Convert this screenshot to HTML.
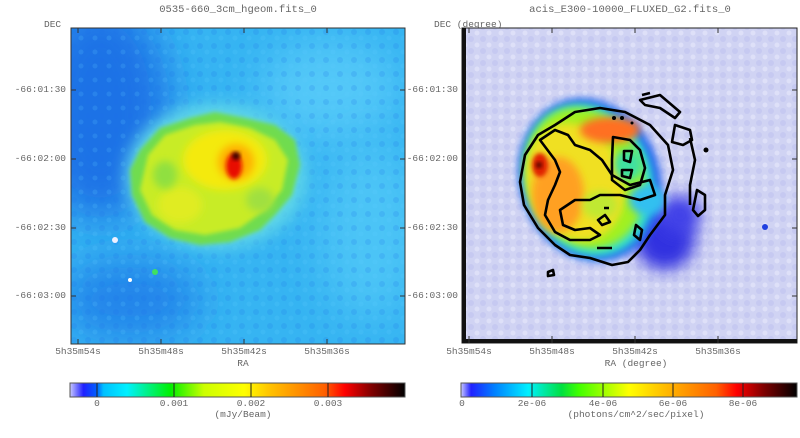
<!DOCTYPE html>
<html><head><style>
body{margin:0;background:#fff;width:800px;height:438px;overflow:hidden}
svg{display:block}
text{font-family:"Liberation Mono",monospace;font-size:9.5px;fill:#666}
</style></head><body>
<svg width="800" height="438" viewBox="0 0 800 438">
<defs>
<filter id="b8" x="-30%" y="-30%" width="160%" height="160%"><feGaussianBlur stdDeviation="8"/></filter>
<filter id="b4" x="-30%" y="-30%" width="160%" height="160%"><feGaussianBlur stdDeviation="4"/></filter>
<filter id="b2" x="-30%" y="-30%" width="160%" height="160%"><feGaussianBlur stdDeviation="2"/></filter>
<filter id="b20" x="-50%" y="-50%" width="200%" height="200%"><feGaussianBlur stdDeviation="20"/></filter>
<clipPath id="cl"><rect x="71" y="28" width="334" height="316"/></clipPath>
<clipPath id="cr"><rect x="462" y="28" width="335" height="315"/></clipPath>
<linearGradient id="cb1" x1="0" x2="1">
<stop offset="0" stop-color="#c8c8ff"/><stop offset="0.04" stop-color="#2020ff"/><stop offset="0.08" stop-color="#0060ff"/><stop offset="0.1" stop-color="#00c0ff"/><stop offset="0.17" stop-color="#00f0ff"/><stop offset="0.3" stop-color="#00f000"/><stop offset="0.4" stop-color="#ccff00"/><stop offset="0.52" stop-color="#ffff00"/><stop offset="0.6" stop-color="#ffc000"/><stop offset="0.76" stop-color="#ff6000"/><stop offset="0.82" stop-color="#ff0000"/><stop offset="0.9" stop-color="#800000"/><stop offset="1" stop-color="#000"/></linearGradient>
<linearGradient id="cb2" x1="0" x2="1">
<stop offset="0" stop-color="#c8c8ff"/><stop offset="0.03" stop-color="#2020ff"/><stop offset="0.1" stop-color="#0080ff"/><stop offset="0.2" stop-color="#00f0ff"/><stop offset="0.3" stop-color="#00e040"/><stop offset="0.35" stop-color="#40ff00"/><stop offset="0.5" stop-color="#ffff00"/><stop offset="0.6" stop-color="#ffc000"/><stop offset="0.76" stop-color="#ff6000"/><stop offset="0.82" stop-color="#ff0000"/><stop offset="0.9" stop-color="#800000"/><stop offset="1" stop-color="#000"/></linearGradient>
<pattern id="noise" width="14" height="14" patternUnits="userSpaceOnUse"><circle cx="4" cy="4" r="3" fill="#1a70e8" opacity="0.18"/><circle cx="11" cy="10" r="2.5" fill="#60d0ff" opacity="0.18"/></pattern>
<pattern id="noise2" width="12" height="12" patternUnits="userSpaceOnUse"><circle cx="3" cy="3" r="3" fill="#bcc0f0" opacity="0.5"/><circle cx="9" cy="9" r="2.5" fill="#e8eafb" opacity="0.6"/></pattern>
</defs>

<text x="238" y="12" text-anchor="middle" style="font-size:10.5px">0535-660_3cm_hgeom.fits_0</text>
<text x="630" y="12" text-anchor="middle" style="font-size:10.5px">acis_E300-10000_FLUXED_G2.fits_0</text>
<text x="44" y="27">DEC</text>
<text x="434" y="27">DEC (degree)</text>

<!-- LEFT IMAGE -->
<g clip-path="url(#cl)">
<rect x="71" y="28" width="334" height="316" fill="#36b4f2"/>
<ellipse cx="100" cy="110" rx="70" ry="110" fill="#1c72e6" filter="url(#b20)"/>
<ellipse cx="130" cy="300" rx="70" ry="40" fill="#2484ea" filter="url(#b20)"/>
<ellipse cx="330" cy="90" rx="70" ry="50" fill="#52c8f8" filter="url(#b20)"/>
<ellipse cx="370" cy="230" rx="50" ry="90" fill="#4cc4f6" filter="url(#b20)"/>
<rect x="71" y="28" width="334" height="316" fill="url(#noise)"/>
<ellipse cx="216" cy="176" rx="90" ry="72" fill="#60d8e8" filter="url(#b8)"/>
<path d="M140 150 L160 128 L190 118 L215 112 L245 118 L275 125 L295 140 L300 165 L292 195 L275 215 L260 230 L230 242 L200 245 L170 238 L145 222 L132 195 L130 170 Z" fill="#70dc50" filter="url(#b2)"/>
<path d="M148 155 L165 135 L195 125 L220 122 L250 128 L275 140 L288 160 L282 190 L265 210 L240 228 L205 235 L175 230 L152 215 L140 190 Z" fill="#c8ec28" filter="url(#b2)"/>
<ellipse cx="225" cy="160" rx="42" ry="30" fill="#f4ea10" filter="url(#b4)"/>
<ellipse cx="180" cy="205" rx="22" ry="18" fill="#e0ec20" filter="url(#b4)"/>
<ellipse cx="165" cy="175" rx="12" ry="14" fill="#90e040" filter="url(#b4)"/>
<ellipse cx="260" cy="200" rx="14" ry="12" fill="#a0e040" filter="url(#b4)"/>
<ellipse cx="236" cy="162" rx="18" ry="18" fill="#ffb000" filter="url(#b4)"/>
<ellipse cx="234" cy="166" rx="8" ry="13" fill="#e81000" filter="url(#b2)"/>
<ellipse cx="236" cy="156" rx="4" ry="4" fill="#300000" filter="url(#b2)"/>
<circle cx="155" cy="272" r="3" fill="#40e060"/>
<circle cx="115" cy="240" r="3" fill="#f0f0ff"/>
<circle cx="130" cy="280" r="2" fill="#ffffff"/>
</g>
<rect x="71" y="28" width="334" height="316" fill="none" stroke="#333" stroke-width="1"/>
<g stroke="#333" stroke-width="1">
<path d="M78 28v5M161 28v5M244 28v5M327 28v5M78 344v-5M161 344v-5M244 344v-5M327 344v-5M71 90h5M71 159h5M71 228h5M71 296h5M405 90h-5M405 159h-5M405 228h-5M405 296h-5"/>
</g>
<text x="66" y="92" text-anchor="end">-66:01:30</text>
<text x="66" y="161" text-anchor="end">-66:02:00</text>
<text x="66" y="230" text-anchor="end">-66:02:30</text>
<text x="66" y="298" text-anchor="end">-66:03:00</text>
<text x="78" y="354" text-anchor="middle">5h35m54s</text>
<text x="161" y="354" text-anchor="middle">5h35m48s</text>
<text x="244" y="354" text-anchor="middle">5h35m42s</text>
<text x="327" y="354" text-anchor="middle">5h35m36s</text>
<text x="243" y="366" text-anchor="middle">RA</text>

<!-- RIGHT IMAGE -->
<g clip-path="url(#cr)">
<rect x="462" y="28" width="335" height="315" fill="#d0d3f3"/>
<rect x="462" y="28" width="335" height="315" fill="url(#noise2)"/>
<ellipse cx="665" cy="240" rx="30" ry="30" fill="#3030e0" filter="url(#b8)"/>
<ellipse cx="680" cy="215" rx="20" ry="20" fill="#4040e8" filter="url(#b8)"/>
<ellipse cx="590" cy="180" rx="70" ry="83" transform="rotate(-20 590 180)" fill="#2060f0" filter="url(#b4)"/>
<ellipse cx="588" cy="180" rx="64" ry="78" transform="rotate(-20 588 180)" fill="#30e0d0" filter="url(#b4)"/>
<ellipse cx="585" cy="178" rx="58" ry="72" transform="rotate(-20 585 178)" fill="#a0f020" filter="url(#b4)"/>
<ellipse cx="575" cy="182" rx="48" ry="60" transform="rotate(-20 575 182)" fill="#f0e020" filter="url(#b4)"/>
<ellipse cx="558" cy="195" rx="26" ry="38" fill="#ffa020" filter="url(#b4)"/>
<ellipse cx="600" cy="205" rx="18" ry="14" fill="#c0e830" filter="url(#b4)"/>
<ellipse cx="610" cy="130" rx="30" ry="13" fill="#ff7020" filter="url(#b4)"/>
<ellipse cx="628" cy="165" rx="14" ry="16" fill="#40e0a0" filter="url(#b4)"/>
<ellipse cx="647" cy="200" rx="18" ry="15" fill="#30c0f0" filter="url(#b4)"/>
<ellipse cx="540" cy="165" rx="8" ry="12" fill="#e02000" filter="url(#b2)"/>
<circle cx="539" cy="165" r="3" fill="#400000" filter="url(#b2)"/>
<circle cx="765" cy="227" r="3" fill="#2040e0"/>
<g fill="none" stroke="#000" stroke-width="2.6" stroke-linejoin="round">
<path d="M555 125 L575 112 L600 108 L625 112 L650 125 L668 145 L673 170 L665 195 L665 215 L650 235 L640 250 L628 262 L612 265 L590 258 L570 255 L555 245 L538 228 L524 205 L520 182 L525 155 L538 135 Z"/>
<path d="M540 140 L555 130 L568 135 L575 145 L590 150 L602 160 L612 175 L630 185 L650 180 L655 195 L640 200 L620 195 L600 195 L590 200 L575 200 L560 210 L563 225 L575 230 L590 228 L600 235 L590 240 L570 240 L555 232 L545 215 L548 200 L555 185 L560 172 L555 160 Z"/>
<path d="M613 137 L630 140 L640 150 L645 168 L640 185 L625 190 L612 180 L612 160 Z"/>
<path d="M624 151 L632 151 L630 162 L624 160 Z"/>
<path d="M622 170 L632 170 L630 178 L622 176 Z"/>
<path d="M640 100 L660 95 L680 112 L675 118 L660 108 L645 105 Z"/>
<path d="M642 95 L650 93 M675 125 L690 130 L692 140 L683 145 L672 142 Z"/>
<path d="M690 138 L695 160 L690 185 L690 205 M697 190 L705 195 L705 210 L698 216 L693 210 Z"/>
<path d="M598 220 L605 215 L610 222 L602 225 Z M636 225 L642 230 L640 240 L634 235 Z M597 248 L612 248"/>
<path d="M548 272 L553 270 L554 275 L548 276 Z M604 208 L609 208"/>
</g>
<g fill="#000"><circle cx="614" cy="118" r="2"/><circle cx="622" cy="118" r="2"/><circle cx="706" cy="150" r="2.5"/><circle cx="632" cy="123" r="1.5"/></g>
</g>
<rect x="462" y="28" width="335" height="315" fill="none" stroke="#222" stroke-width="1"/>
<rect x="462" y="28" width="4" height="315" fill="#111"/>
<rect x="462" y="339" width="335" height="4" fill="#111"/>
<g stroke="#333" stroke-width="1">
<path d="M469 28v5M552 28v5M635 28v5M718 28v5M469 343v-7M552 343v-7M635 343v-7M718 343v-7M797 90h-5M797 159h-5M797 228h-5M797 296h-5"/>
</g>
<text x="458" y="92" text-anchor="end">-66:01:30</text>
<text x="458" y="161" text-anchor="end">-66:02:00</text>
<text x="458" y="230" text-anchor="end">-66:02:30</text>
<text x="458" y="298" text-anchor="end">-66:03:00</text>
<text x="469" y="354" text-anchor="middle">5h35m54s</text>
<text x="552" y="354" text-anchor="middle">5h35m48s</text>
<text x="635" y="354" text-anchor="middle">5h35m42s</text>
<text x="718" y="354" text-anchor="middle">5h35m36s</text>
<text x="636" y="366" text-anchor="middle">RA (degree)</text>

<!-- COLORBARS -->
<rect x="70" y="383" width="335" height="14" fill="url(#cb1)" stroke="#555" stroke-width="1"/>
<g stroke="#222" stroke-width="1"><path d="M97 383v14M174 383v14M251 383v14M328 383v14"/></g>
<text x="97" y="406" text-anchor="middle">0</text>
<text x="174" y="406" text-anchor="middle">0.001</text>
<text x="251" y="406" text-anchor="middle">0.002</text>
<text x="328" y="406" text-anchor="middle">0.003</text>
<text x="243" y="417" text-anchor="middle">(mJy/Beam)</text>

<rect x="461" y="383" width="336" height="14" fill="url(#cb2)" stroke="#555" stroke-width="1"/>
<g stroke="#222" stroke-width="1"><path d="M532 383v14M603 383v14M673 383v14M743 383v14"/></g>
<text x="462" y="406" text-anchor="middle">0</text>
<text x="532" y="406" text-anchor="middle">2e-06</text>
<text x="603" y="406" text-anchor="middle">4e-06</text>
<text x="673" y="406" text-anchor="middle">6e-06</text>
<text x="743" y="406" text-anchor="middle">8e-06</text>
<text x="636" y="417" text-anchor="middle">(photons/cm^2/sec/pixel)</text>
</svg>
</body></html>
